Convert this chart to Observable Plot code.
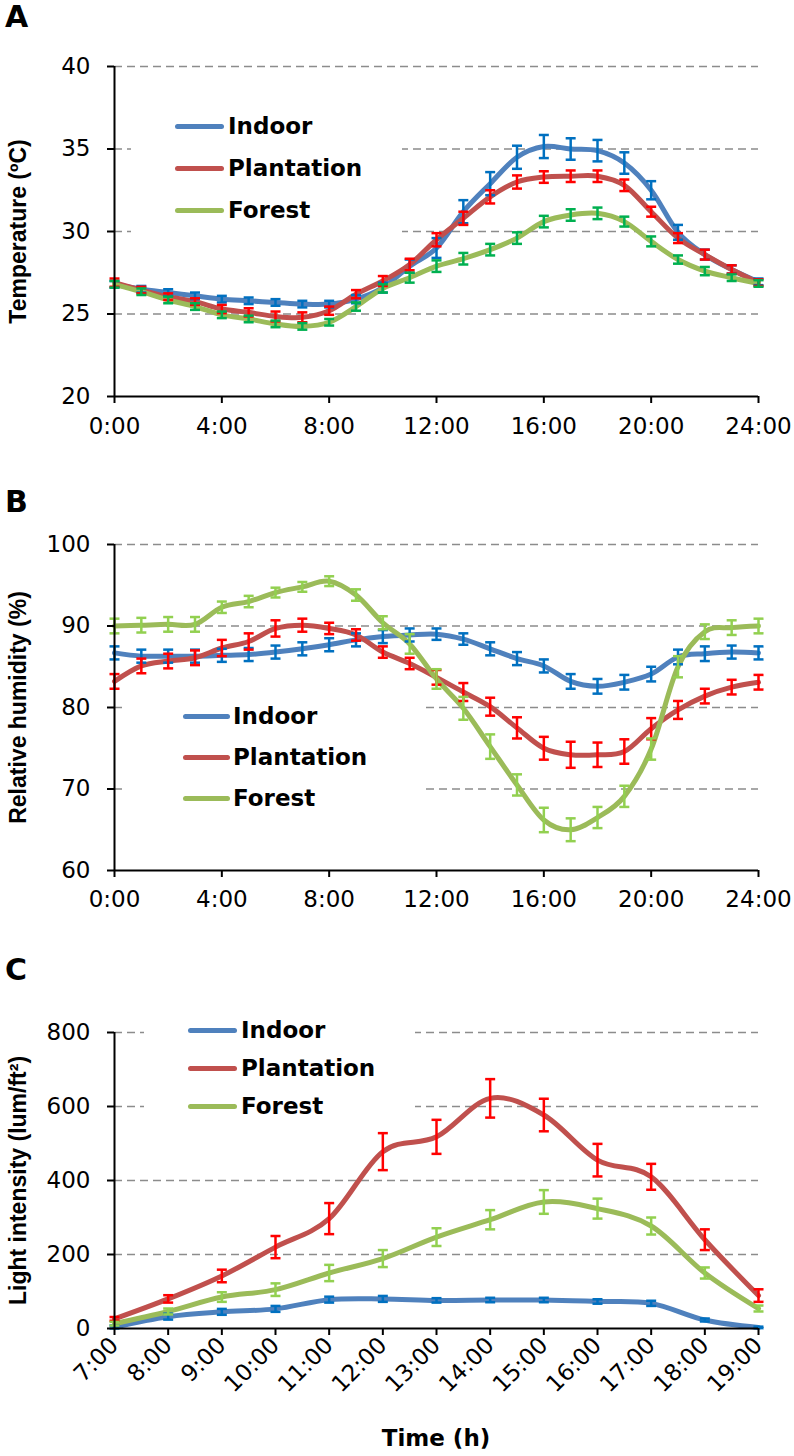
<!DOCTYPE html>
<html>
<head>
<meta charset="utf-8">
<script src="https://cdn.jsdelivr.net/npm/d3@7"></script>
<script src="https://cdn.jsdelivr.net/npm/@observablehq/plot@0.6"></script>
<style>
  html, body { margin: 0; padding: 0; background: #fff; }
  #fig { position: relative; width: 794px; height: 1456px; overflow: hidden; font-family: "DejaVu Sans", sans-serif; }
  .panel { position: absolute; left: 0; }
  .letter { position: absolute; left: 5px; font: bold 30px/30px "DejaVu Sans"; color: #000; }
  .legbox { position: absolute; background: #fff; }
  .legrow { position: absolute; height: 30px; display: flex; align-items: center; white-space: nowrap; }
  .legline { height: 5px; border-radius: 3px; }
  .legtext { font: bold 23px "DejaVu Sans"; color: #000; }
  .xtitle { position: absolute; font: bold 23px "DejaVu Sans"; color: #000; transform: translate(-50%, -50%); white-space: nowrap; }
</style>
</head>
<body>
<div id="fig"></div>
<script>
// ---------------- DATA ----------------
const seriesNames = ["Indoor", "Plantation", "Forest"];

const dayHours = [0,1,2,3,4,5,6,7,8,9,10,11,12,13,14,15,16,17,18,19,20,21,22,23,24];
const dayTickValues = [0,4,8,12,16,20,24];
const dayTickLabels = ["0:00","4:00","8:00","12:00","16:00","20:00","24:00"];

// Panel A: temperature (ºC)
const tempIndoor     = [26.8,26.5,26.3,26.1,25.9,25.8,25.7,25.6,25.6,25.9,26.6,27.9,29.0,31.2,32.9,34.5,35.15,35.0,34.9,34.15,32.5,29.95,28.6,27.7,26.95];
const tempPlantation = [26.9,26.45,26.05,25.75,25.3,25.1,24.85,24.8,25.2,26.2,27.0,28.0,29.5,30.8,32.1,33.0,33.3,33.35,33.35,32.8,31.2,29.6,28.6,27.7,26.9];
const tempForest     = [26.8,26.35,25.85,25.45,24.95,24.7,24.4,24.25,24.5,25.45,26.55,27.2,27.9,28.35,28.9,29.6,30.6,31.0,31.1,30.6,29.4,28.3,27.6,27.2,26.85];
const tempIndoorErr     = [0.2,0.2,0.2,0.2,0.2,0.2,0.2,0.2,0.2,0.25,0.3,0.4,0.6,0.7,0.7,0.7,0.7,0.65,0.65,0.65,0.55,0.45,0.3,0.25,0.2];
const tempPlantationErr = [0.25,0.2,0.2,0.2,0.25,0.25,0.3,0.3,0.25,0.25,0.3,0.35,0.4,0.4,0.4,0.4,0.35,0.35,0.35,0.35,0.3,0.3,0.3,0.25,0.2];
const tempForestErr     = [0.2,0.2,0.2,0.2,0.2,0.2,0.2,0.2,0.2,0.25,0.25,0.3,0.35,0.35,0.35,0.35,0.35,0.35,0.35,0.3,0.3,0.25,0.25,0.2,0.2];
const tempYTicks = [20,25,30,35,40];
const tempGrid = [25,30,35,40];

// Panel B: relative humidity (%)
const rhIndoor     = [86.7,86.3,86.3,86.3,86.4,86.5,86.8,87.2,87.7,88.3,88.7,88.9,89.0,88.4,87.2,86.0,85.1,83.2,82.6,83.1,84.1,86.2,86.6,86.8,86.7];
const rhPlantation = [83.2,85.1,85.7,86.1,87.3,88.1,89.7,90.1,89.7,88.9,86.8,85.4,83.7,81.9,80.1,77.5,75.0,74.2,74.2,74.6,77.4,79.7,81.4,82.5,83.1];
const rhForest     = [90.0,90.1,90.2,90.2,92.3,93.0,94.1,94.8,95.5,93.8,90.4,87.8,83.5,79.9,75.2,70.5,66.2,65.0,66.5,69.1,74.9,85.0,89.3,89.8,90.0];
const rhIndoorErr     = [0.8,0.8,0.8,0.8,0.8,0.8,0.8,0.8,0.8,0.8,0.8,0.8,0.7,0.7,0.8,0.8,0.8,0.9,0.9,0.9,0.9,0.9,0.9,0.8,0.8];
const rhPlantationErr = [0.9,0.9,0.9,0.9,1.0,1.0,1.0,0.8,0.7,0.7,0.7,0.7,0.9,1.1,1.1,1.3,1.4,1.6,1.5,1.5,1.3,1.1,0.9,0.9,0.9];
const rhForestErr     = [0.9,0.9,0.9,0.9,0.7,0.7,0.6,0.6,0.6,0.7,0.8,1.2,1.2,1.4,1.5,1.3,1.5,1.4,1.3,1.3,1.3,1.3,0.9,0.9,0.9];
const rhYTicks = [60,70,80,90,100];
const rhGrid = [70,80,90,100];

// Panel C: light intensity (lum/ft²)
const lightHours = [7,8,9,10,11,12,13,14,15,16,17,18,19];
const lightTickLabels = ["7:00","8:00","9:00","10:00","11:00","12:00","13:00","14:00","15:00","16:00","17:00","18:00","19:00"];
const lightIndoor     = [4,32,45,53,78,80,76,77,77,73,68,23,3];
const lightPlantation = [26,80,142,220,297,478,518,622,577,455,410,240,89];
const lightForest     = [13,46,85,105,150,189,247,294,342,324,277,150,54];
const lightIndoorErr     = [4,8,8,8,8,8,6,6,6,6,7,4,2];
const lightPlantationErr = [5,10,17,30,42,50,46,52,44,44,35,28,17];
const lightForestErr     = [5,8,13,17,22,23,24,26,32,27,23,15,8];
const lightYTicks = [0,200,400,600,800];
const lightGrid = [200,400,600,800];

// ---------------- STYLE ----------------
const lineColors = {Indoor: "#4F81BD", Plantation: "#C0504D", Forest: "#9BBB59"};
const errColorsA = {Indoor: "#0070C0", Plantation: "#FF0000", Forest: "#00B050"};
const errColorsBC = {Indoor: "#0070C0", Plantation: "#FF0000", Forest: "#92D050"};

const capSymbol = {
  draw(ctx, size) {
    const r = Math.sqrt(size / Math.PI);
    ctx.moveTo(-r, 0);
    ctx.lineTo(r, 0);
  }
};

function rowsOf(xs, ys, es) {
  return xs.map((x, i) => ({x, y: ys[i], e: es[i]}));
}

function makePanel(cfg) {
  const marks = [];
  marks.push(Plot.gridY(cfg.grid, {stroke: "#8c8c8c", strokeOpacity: 1, strokeWidth: 1.6, strokeDasharray: "8,5"}));
  cfg.series.forEach(s => {
    marks.push(Plot.line(rowsOf(cfg.xs, s.values, s.errs), {
      x: "x", y: "y", stroke: lineColors[s.name], strokeWidth: 5,
      curve: "cardinal", tension: 0, strokeLinecap: "round", strokeLinejoin: "round"
    }));
  });
  cfg.series.forEach(s => {
    const rows = rowsOf(cfg.xs, s.values, s.errs);
    const c = cfg.errColors[s.name];
    marks.push(Plot.ruleX(rows, {x: "x", y1: d => d.y - d.e, y2: d => d.y + d.e, stroke: c, strokeWidth: 2.5}));
    marks.push(Plot.dot(rows, {x: "x", y: d => d.y - d.e, symbol: capSymbol, r: 5, stroke: c, strokeWidth: 2.5, fill: "none"}));
    marks.push(Plot.dot(rows, {x: "x", y: d => d.y + d.e, symbol: capSymbol, r: 5, stroke: c, strokeWidth: 2.5, fill: "none"}));
  });
  // axis lines
  marks.push(Plot.ruleX([cfg.xDomain[0]], {stroke: "#000", strokeWidth: 2}));
  marks.push(Plot.ruleY([cfg.yDomain[0]], {stroke: "#000", strokeWidth: 2}));
  marks.push(Plot.axisY(cfg.yTicks, {
    tickSize: 7, tickPadding: 17, fontSize: 23, stroke: "#000", strokeWidth: 2, label: null
  }));
  marks.push(Plot.axisX(cfg.xTicks, {
    tickSize: 7, tickPadding: cfg.xPad, fontSize: 23, stroke: "#000", strokeWidth: 2, label: null,
    tickFormat: d => cfg.xLabels[cfg.xTicks.indexOf(d)],
    tickRotate: cfg.rotate || 0
  }));
  marks.push(Plot.text([cfg.yTitle], {
    frameAnchor: "left", textAnchor: "middle", lineAnchor: "middle", dx: -96, rotate: -90,
    fontWeight: "bold", fontSize: 23,
    fontFamily: "Liberation Sans, Arial, sans-serif", fill: "#000"
  }));
  return Plot.plot({
    width: 794, height: cfg.height,
    marginLeft: 114, marginRight: 36, marginTop: cfg.marginTop, marginBottom: cfg.marginBottom,
    style: {fontFamily: "DejaVu Sans, sans-serif", background: "transparent", overflow: "visible", color: "#000"},
    x: {domain: cfg.xDomain, axis: null},
    y: {domain: cfg.yDomain, axis: null},
    marks
  });
}

const fig = document.getElementById("fig");

function place(el, top) {
  const wrap = document.createElement("div");
  wrap.className = "panel";
  wrap.style.top = top + "px";
  wrap.appendChild(el);
  fig.appendChild(wrap);
}

// Panel A
place(makePanel({
  xs: dayHours, xDomain: [0, 24], yDomain: [20, 40],
  xTicks: dayTickValues, xLabels: dayTickLabels, xPad: 14,
  yTicks: tempYTicks, grid: tempGrid, yTitle: "Temperature (ºC)",
  errColors: errColorsA,
  series: [
    {name: "Indoor", values: tempIndoor, errs: tempIndoorErr},
    {name: "Plantation", values: tempPlantation, errs: tempPlantationErr},
    {name: "Forest", values: tempForest, errs: tempForestErr}
  ],
  height: 440, marginTop: 26, marginBottom: 84
}), 40);

// Panel B
place(makePanel({
  xs: dayHours, xDomain: [0, 24], yDomain: [60, 100],
  xTicks: dayTickValues, xLabels: dayTickLabels, xPad: 13,
  yTicks: rhYTicks, grid: rhGrid, yTitle: "Relative humidity (%)",
  errColors: errColorsBC,
  series: [
    {name: "Indoor", values: rhIndoor, errs: rhIndoorErr},
    {name: "Plantation", values: rhPlantation, errs: rhPlantationErr},
    {name: "Forest", values: rhForest, errs: rhForestErr}
  ],
  height: 440, marginTop: 44, marginBottom: 70
}), 500);

// Panel C
place(makePanel({
  xs: lightHours, xDomain: [7, 19], yDomain: [0, 800],
  xTicks: lightHours, xLabels: lightTickLabels, xPad: 6, rotate: -45,
  yTicks: lightYTicks, grid: lightGrid, yTitle: "Light intensity (lum/ft²)",
  errColors: errColorsBC,
  series: [
    {name: "Indoor", values: lightIndoor, errs: lightIndoorErr},
    {name: "Plantation", values: lightPlantation, errs: lightPlantationErr},
    {name: "Forest", values: lightForest, errs: lightForestErr}
  ],
  height: 496, marginTop: 72, marginBottom: 128
}), 960);

// Legends (HTML overlays with white box)
function legend(box, rowCenters, lineLeft, lineWidth, textGap) {
  const b = document.createElement("div");
  b.className = "legbox";
  Object.assign(b.style, {left: box[0] + "px", top: box[1] + "px", width: box[2] + "px", height: box[3] + "px"});
  fig.appendChild(b);
  seriesNames.forEach((name, i) => {
    const row = document.createElement("div");
    row.className = "legrow";
    row.style.left = lineLeft + "px";
    row.style.top = (rowCenters[i] - 15) + "px";
    const ln = document.createElement("div");
    ln.className = "legline";
    ln.style.width = lineWidth + "px";
    ln.style.background = lineColors[name];
    const tx = document.createElement("span");
    tx.className = "legtext";
    tx.style.marginLeft = textGap + "px";
    tx.textContent = name;
    row.appendChild(ln);
    row.appendChild(tx);
    fig.appendChild(row);
  });
}
legend([131, 100, 271, 138], [126, 168, 210], 175, 49, 4);
legend([122, 694, 304, 122], [716, 757, 798], 183, 47, 3);
legend([144, 1010, 271, 110], [1030, 1068, 1106], 188, 49, 4);

// Panel letters
[["A", 1.5], ["B", 486.5], ["C", 955]].forEach(([t, top]) => {
  const d = document.createElement("div");
  d.className = "letter";
  d.style.top = top + "px";
  d.textContent = t;
  fig.appendChild(d);
});

// X title for panel C
const xt = document.createElement("div");
xt.className = "xtitle";
xt.style.left = "436px";
xt.style.top = "1438px";
xt.textContent = "Time (h)";
fig.appendChild(xt);
</script>
</body>
</html>
